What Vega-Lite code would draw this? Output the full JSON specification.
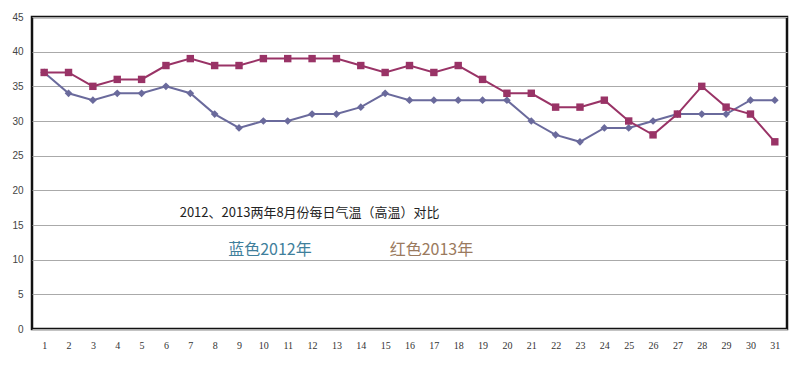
{
  "$schema": "https://vega.github.io/schema/vega-lite/v6.json",
  "width": 755,
  "height": 312,
  "autosize": {"type": "none"},
  "padding": {"left": 32, "top": 17, "right": 13, "bottom": 36},
  "background": "white",
  "config": {
    "view": {"stroke": "#111111", "strokeWidth": 2.5},
    "axis": {"domain": false, "ticks": false},
    "axisX": {"title": null, "grid": false, "labelOverlap": false, "labelFont": "Liberation Serif", "labelFontSize": 10, "labelColor": "#333333", "labelPadding": 11, "labelFlush": false},
    "axisY": {"title": null, "labelOverlap": false, "gridColor": "#aaaaaa", "gridWidth": 1, "gridOpacity": 1, "labelFont": "Liberation Sans", "labelFontSize": 10, "labelColor": "#444444", "labelPadding": 9}
  },
  "datasets": {
    "temps": [
      {"day": 1, "year": "2012", "temp": 37}, {"day": 2, "year": "2012", "temp": 34}, {"day": 3, "year": "2012", "temp": 33}, {"day": 4, "year": "2012", "temp": 34}, {"day": 5, "year": "2012", "temp": 34}, {"day": 6, "year": "2012", "temp": 35}, {"day": 7, "year": "2012", "temp": 34}, {"day": 8, "year": "2012", "temp": 31}, {"day": 9, "year": "2012", "temp": 29}, {"day": 10, "year": "2012", "temp": 30}, {"day": 11, "year": "2012", "temp": 30}, {"day": 12, "year": "2012", "temp": 31}, {"day": 13, "year": "2012", "temp": 31}, {"day": 14, "year": "2012", "temp": 32}, {"day": 15, "year": "2012", "temp": 34}, {"day": 16, "year": "2012", "temp": 33}, {"day": 17, "year": "2012", "temp": 33}, {"day": 18, "year": "2012", "temp": 33}, {"day": 19, "year": "2012", "temp": 33}, {"day": 20, "year": "2012", "temp": 33}, {"day": 21, "year": "2012", "temp": 30}, {"day": 22, "year": "2012", "temp": 28}, {"day": 23, "year": "2012", "temp": 27}, {"day": 24, "year": "2012", "temp": 29}, {"day": 25, "year": "2012", "temp": 29}, {"day": 26, "year": "2012", "temp": 30}, {"day": 27, "year": "2012", "temp": 31}, {"day": 28, "year": "2012", "temp": 31}, {"day": 29, "year": "2012", "temp": 31}, {"day": 30, "year": "2012", "temp": 33}, {"day": 31, "year": "2012", "temp": 33},
      {"day": 1, "year": "2013", "temp": 37}, {"day": 2, "year": "2013", "temp": 37}, {"day": 3, "year": "2013", "temp": 35}, {"day": 4, "year": "2013", "temp": 36}, {"day": 5, "year": "2013", "temp": 36}, {"day": 6, "year": "2013", "temp": 38}, {"day": 7, "year": "2013", "temp": 39}, {"day": 8, "year": "2013", "temp": 38}, {"day": 9, "year": "2013", "temp": 38}, {"day": 10, "year": "2013", "temp": 39}, {"day": 11, "year": "2013", "temp": 39}, {"day": 12, "year": "2013", "temp": 39}, {"day": 13, "year": "2013", "temp": 39}, {"day": 14, "year": "2013", "temp": 38}, {"day": 15, "year": "2013", "temp": 37}, {"day": 16, "year": "2013", "temp": 38}, {"day": 17, "year": "2013", "temp": 37}, {"day": 18, "year": "2013", "temp": 38}, {"day": 19, "year": "2013", "temp": 36}, {"day": 20, "year": "2013", "temp": 34}, {"day": 21, "year": "2013", "temp": 34}, {"day": 22, "year": "2013", "temp": 32}, {"day": 23, "year": "2013", "temp": 32}, {"day": 24, "year": "2013", "temp": 33}, {"day": 25, "year": "2013", "temp": 30}, {"day": 26, "year": "2013", "temp": 28}, {"day": 27, "year": "2013", "temp": 31}, {"day": 28, "year": "2013", "temp": 35}, {"day": 29, "year": "2013", "temp": 32}, {"day": 30, "year": "2013", "temp": 31}, {"day": 31, "year": "2013", "temp": 27}
    ]
  },
  "layer": [
    {
      "data": {"name": "temps"},
      "mark": {"type": "line", "strokeWidth": 2},
      "encoding": {
        "x": {
          "field": "day", "type": "quantitative",
          "scale": {"domain": [0.5, 31.5], "nice": false, "zero": false},
          "axis": {"values": [1,2,3,4,5,6,7,8,9,10,11,12,13,14,15,16,17,18,19,20,21,22,23,24,25,26,27,28,29,30,31]}
        },
        "y": {
          "field": "temp", "type": "quantitative",
          "scale": {"domain": [0, 45], "nice": false},
          "axis": {"values": [0,5,10,15,20,25,30,35,40,45]}
        },
        "color": {
          "field": "year", "type": "nominal",
          "scale": {"domain": ["2012", "2013"], "range": ["#6a6a9c", "#993366"]},
          "legend": null
        }
      }
    },
    {
      "data": {"name": "temps"},
      "mark": {"type": "point", "filled": true, "opacity": 1},
      "encoding": {
        "x": {"field": "day", "type": "quantitative", "axis": {"values": [1,2,3,4,5,6,7,8,9,10,11,12,13,14,15,16,17,18,19,20,21,22,23,24,25,26,27,28,29,30,31]}},
        "y": {"field": "temp", "type": "quantitative", "axis": {"values": [0,5,10,15,20,25,30,35,40,45]}},
        "color": {"field": "year", "type": "nominal", "legend": null},
        "shape": {
          "field": "year", "type": "nominal",
          "scale": {"domain": ["2012", "2013"], "range": ["diamond", "square"]},
          "legend": null
        },
        "size": {
          "field": "year", "type": "nominal",
          "scale": {"domain": ["2012", "2013"], "range": [60, 55]},
          "legend": null
        }
      }
    },
    {
      "data": {"values": [{}]},
      "mark": {"type": "text", "text": "2012、2013两年8月份每日气温（高温）对比", "font": "Noto Sans CJK SC", "fontSize": 13, "color": "#222222", "align": "center", "baseline": "middle"},
      "encoding": {
        "x": {"datum": 11.9, "type": "quantitative", "axis": {"values": [1,2,3,4,5,6,7,8,9,10,11,12,13,14,15,16,17,18,19,20,21,22,23,24,25,26,27,28,29,30,31]}},
        "y": {"datum": 16.8, "type": "quantitative", "axis": {"values": [0,5,10,15,20,25,30,35,40,45]}}
      }
    },
    {
      "data": {"values": [{}]},
      "mark": {"type": "text", "text": "蓝色2012年", "font": "Noto Sans CJK SC", "fontSize": 16, "color": "#3f7f9c", "align": "center", "baseline": "middle"},
      "encoding": {
        "x": {"datum": 10.27, "type": "quantitative", "axis": {"values": [1,2,3,4,5,6,7,8,9,10,11,12,13,14,15,16,17,18,19,20,21,22,23,24,25,26,27,28,29,30,31]}},
        "y": {"datum": 11.4, "type": "quantitative", "axis": {"values": [0,5,10,15,20,25,30,35,40,45]}}
      }
    },
    {
      "data": {"values": [{}]},
      "mark": {"type": "text", "text": "红色2013年", "font": "Noto Sans CJK SC", "fontSize": 16, "color": "#9a7a5e", "align": "center", "baseline": "middle"},
      "encoding": {
        "x": {"datum": 16.9, "type": "quantitative", "axis": {"values": [1,2,3,4,5,6,7,8,9,10,11,12,13,14,15,16,17,18,19,20,21,22,23,24,25,26,27,28,29,30,31]}},
        "y": {"datum": 11.4, "type": "quantitative", "axis": {"values": [0,5,10,15,20,25,30,35,40,45]}}
      }
    }
  ]
}
